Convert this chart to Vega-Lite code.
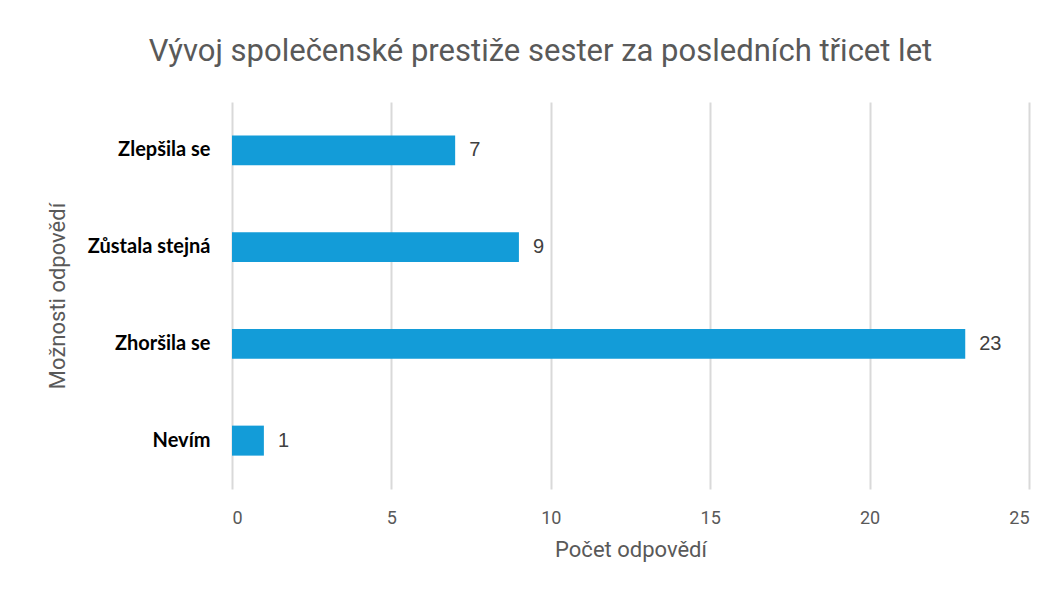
{
  "$schema": "https://vega.github.io/schema/vega-lite/v6.json",
  "width": 797,
  "height": 387,
  "autosize": {"type": "none"},
  "padding": {"left": 232, "top": 102, "right": 25, "bottom": 103},
  "background": "white",
  "title": {
    "text": "Vývoj společenské prestiže sester za posledních třicet let",
    "font": "Roboto",
    "fontSize": 31,
    "fontWeight": "normal",
    "color": "#595959",
    "anchor": "middle",
    "dx": -90,
    "offset": 34
  },
  "config": {
    "view": {"stroke": null},
    "font": "Lato"
  },
  "data": {
    "values": [
      {"odpoved": "Zlepšila se", "pocet": 7},
      {"odpoved": "Zůstala stejná", "pocet": 9},
      {"odpoved": "Zhoršila se", "pocet": 23},
      {"odpoved": "Nevím", "pocet": 1}
    ]
  },
  "encoding": {
    "y": {
      "field": "odpoved",
      "type": "nominal",
      "sort": ["Zlepšila se", "Zůstala stejná", "Zhoršila se", "Nevím"],
      "scale": {"paddingInner": 0.69, "paddingOuter": 0.345},
      "axis": {
        "title": "Možnosti odpovědí",
        "titleFont": "Roboto",
        "titleFontSize": 22,
        "titleFontWeight": "normal",
        "titleColor": "#595959",
        "titlePadding": 18,
        "labelFont": "Lato",
        "labelFontSize": 20,
        "labelFontWeight": "bold",
        "labelColor": "#000000",
        "labelPadding": 22,
        "ticks": false,
        "domain": false,
        "grid": false
      }
    },
    "x": {
      "field": "pocet",
      "type": "quantitative",
      "scale": {"domain": [0, 25], "nice": false},
      "axis": {
        "title": "Počet odpovědí",
        "titleFont": "Roboto",
        "titleFontSize": 22,
        "titleFontWeight": "normal",
        "titleColor": "#595959",
        "titlePadding": 12,
        "values": [0, 5, 10, 15, 20, 25],
        "labelFont": "Roboto",
        "labelFontSize": 18,
        "labelColor": "#595959",
        "labelPadding": 20,
        "ticks": false,
        "domain": false,
        "grid": true,
        "gridColor": "#d9d9d9",
        "gridWidth": 2
      }
    }
  },
  "layer": [
    {"mark": {"type": "bar", "color": "#139CD8"}},
    {
      "mark": {"type": "text", "align": "left", "baseline": "middle", "dx": 14, "fontSize": 20, "color": "#404040", "font": "Liberation Sans, Arial"},
      "encoding": {"text": {"field": "pocet", "type": "quantitative"}}
    }
  ]
}
